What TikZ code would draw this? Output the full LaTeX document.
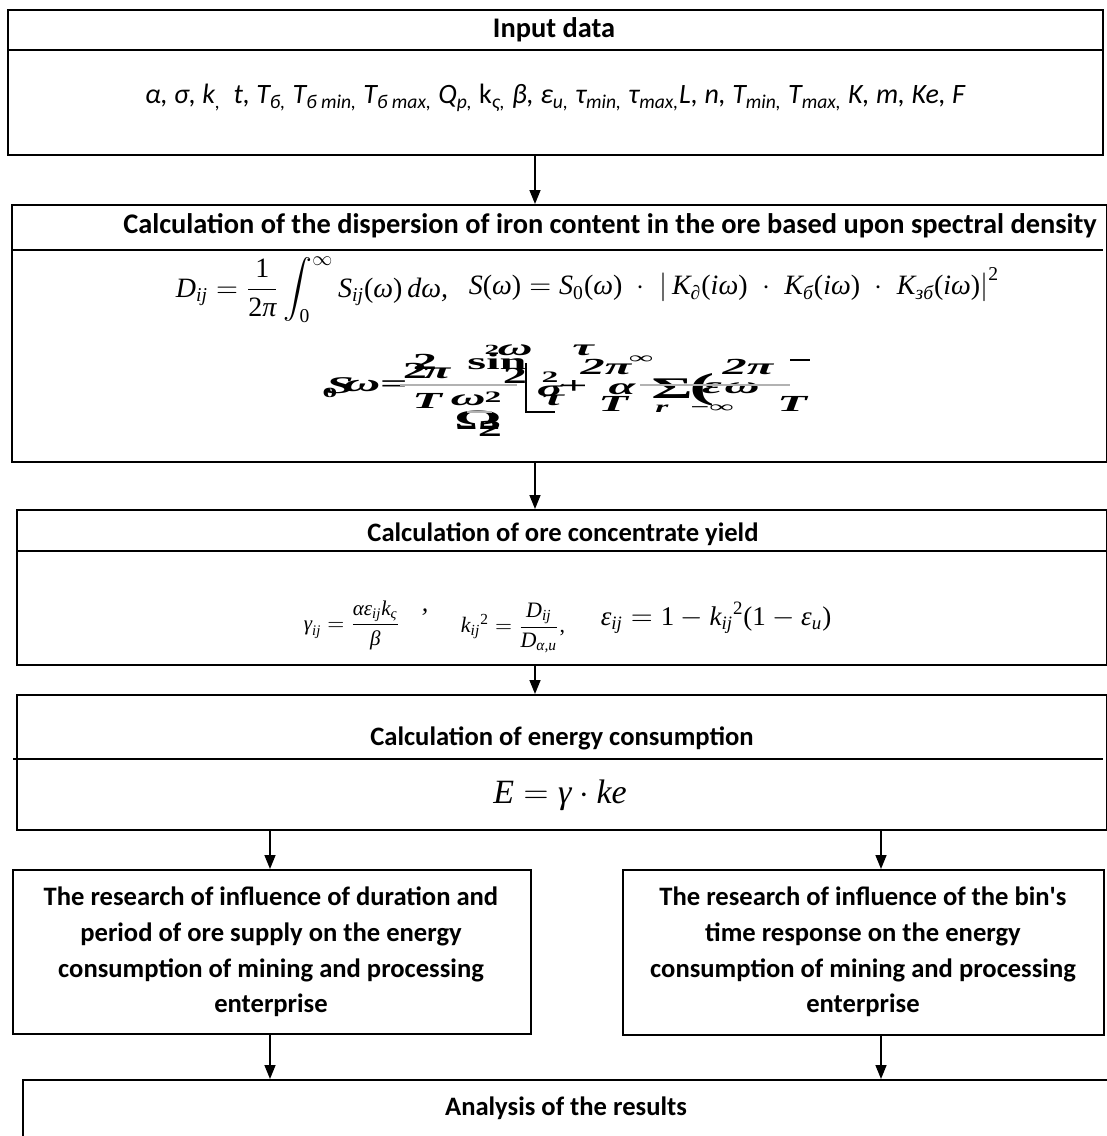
\documentclass[tikz,border=0pt]{standalone}
\usepackage{fontspec}
\usepackage{amsmath}
\usepackage{graphicx}
\setmainfont{Carlito}
\newfontfamily\tnr{Liberation Serif}
\usetikzlibrary{arrows.meta,fit,calc}
\newcommand\mv[1]{\text{\tnr\itshape #1}}
\newcommand\mr[1]{\text{\tnr #1}}
\newcommand\ar[1]{\mr{(}\mv{#1}\mr{)}}
\newcommand\gl[2]{\scalebox{2.1}[1]{\fontsize{#1}{#1}\selectfont\tnr\bfseries #2}}
\newcommand\cd{\mathbin{\;\cdot\;}}
\tikzset{
  box/.style={draw, line width=1pt, inner sep=0pt},
  divider/.style={line width=1pt},
  title/.style={font=\fontsize{13.3}{16}\selectfont\bfseries, inner sep=0pt},
  bigtitle/.style={font=\fontsize{14.2}{17}\selectfont\bfseries, inner sep=0pt},
  para/.style={inner sep=0pt, align=center, font=\fontsize{13.3}{17.8}\selectfont\bfseries},
  arr/.style={line width=0.75pt, -{Triangle[length=7pt,width=5.5pt]}},
  glyph/.style={inner sep=0pt, anchor=center},
  form/.style={inner sep=0pt}
}
\begin{document}
\begin{tikzpicture}[x=0.5pt,y=-0.5pt]
\useasboundingbox (0,0) rectangle (1107,1136);
\clip (0,0) rectangle (1107,1136);
\fill[white] (0,0) rectangle (1107,1136);
% connector x positions
\coordinate (cx) at (535,0);
\coordinate (lx) at (270,0);
\coordinate (rx) at (881,0);

% ---- Box 1
\node[box, fit={(8,10) (1103,155)}] (b1) {};
\draw[divider] (b1.west |- 0,50) -- (b1.east |- 0,50);
\node[bigtitle] (t1) at (554,30) {Input data};
\node[inner sep=0pt, font=\fontsize{14}{16}\selectfont\itshape] (v1) at (555,98)
 {α, σ, k\textsubscript{,}\ \ t, T\textsubscript{б,} T\textsubscript{б min,} T\textsubscript{б max,} Q\textsubscript{p,} \textup{k}\textsubscript{ς,} β, ε\textsubscript{u,} τ\textsubscript{min,} τ\textsubscript{max,}L, n, T\textsubscript{min,} T\textsubscript{max,} K, m, Ke, F};

% ---- Box 2
\node[box, fit={(12,205) (1107,462)}] (b2) {};
\draw[divider] (b2.west |- 0,250) -- (1103,250);
\node[bigtitle] (t2) at (610,226) {Calculation of the dispersion of iron content in the ore based upon spectral density};
\node[form, font=\fontsize{14}{16}\selectfont] (f1) at (312,290)
 {$\displaystyle \mv{D}_{\mv{ij}} = \frac{\mr{1}}{\mr{2}\mv{π}}\int_{\mr{0}}^{\infty}\mv{S}_{\mv{ij}}\ar{ω}\,\mv{dω}$\mv{,}};
\node[form, font=\fontsize{14}{16}\selectfont] (f2) at (734,285)
 {$\mv{S}\ar{ω} = \mv{S}_{\mr{0}}\ar{ω}\cd\left|\,\mv{K}_{\mv{∂}}\ar{iω}\cd\mv{K}_{\mv{б}}\ar{iω}\cd\mv{K}_{\mv{зб}}\ar{iω}\right|^{\mr{2}}$};

% garbled formula (overlapping glyphs)
\begin{scope}
\clip (318,340) rectangle (810,440);
\node[glyph] (g1) at (492,350) {\gl{7}{2}};
\node[glyph] (g2) at (515,350) {\gl{11.5}{\itshape ω}};
\node[glyph] (g3) at (583,350) {\gl{11.5}{\itshape τ}};
\node[glyph] (g4) at (425,362) {\gl{11.5}{2}};
\node[glyph] (g5) at (497,362) {\gl{11.5}{sin}};
\node[glyph] (g6) at (415,371) {\gl{11.5}{2}};
\node[glyph] (g7) at (437,373) {\gl{11.5}{\itshape π}};
\node[glyph] (g8) at (515,376) {\gl{11.5}{2}};
\node[glyph] (g9) at (340,386) {\gl{12}{\itshape S}};
\node[glyph] (g10) at (362,386) {\gl{12}{\itshape ω}};
\node[glyph] (g11) at (330,393) {\gl{7}{0}};
\node[glyph] (g12) at (394,386) {\gl{11.5}{=}};
\draw[gray!60, line width=0.8pt] (400,385) -- (517,385);
\node[glyph] (g13) at (550,377) {\gl{8}{2}};
\node[glyph] (g14) at (550,391) {\gl{11.5}{\itshape σ}};
\node[glyph] (g15) at (574,387) {\gl{11.5}{+}};
\draw[line width=1.3pt] (526,363) -- (526,412) -- (555,412);
\node[glyph] (g16) at (427,401) {\gl{11.5}{\itshape T}};
\node[glyph] (g17) at (468,400) {\gl{11.5}{\itshape ω}};
\node[glyph] (g18) at (493,397) {\gl{8}{2}};
\node[glyph] (g19) at (553,400) {\gl{11.5}{\itshape τ}};
\node[glyph] (g20) at (478,420) {\gl{14}{Ω}};
\node[glyph] (g21) at (490,429) {\gl{11.5}{2}};
\draw[gray!60, line width=0.8pt] (467,412) -- (492,412);
\node[glyph] (g22) at (606,367) {\gl{11.5}{\itshape 2π}};
\node[glyph] (g23) at (641,360) {\gl{8}{∞}};
\node[glyph] (g24) at (622,389) {\gl{11.5}{\itshape α}};
\node[glyph] (g25) at (672,389) {\gl{15}{Σ}};
\node[glyph] (g26) at (702,390) {\gl{18}{(}};
\node[glyph] (g27) at (748,367) {\gl{11.5}{\itshape 2π}};
\node[glyph] (g28) at (712,388) {\gl{11.5}{\itshape ε}};
\node[glyph] (g29) at (742,388) {\gl{11.5}{\itshape ω}};
\draw[gray!60, line width=0.8pt] (640,385) -- (790,385);
\node[glyph] (g30) at (613,404) {\gl{11.5}{\itshape T}};
\node[glyph] (g31) at (662,409) {\gl{8}{\itshape r}};
\node[glyph] (g32) at (712,409) {\gl{8}{−∞}};
\node[glyph] (g33) at (792,404) {\gl{11.5}{\itshape T}};
\draw[line width=0.8pt] (790,360) -- (810,360);
\end{scope}

% ---- Box 3
\node[box, fit={(17,510) (1107,665)}] (b3) {};
\draw[divider] (b3.west |- 0,551) -- (b3.east |- 0,551);
\node[title] (t3) at (563,534) {Calculation of ore concentrate yield};
\node[form, font=\fontsize{10.5}{12}\selectfont] (f3) at (352,625)
 {$\mv{γ}_{\mv{ij}} = \dfrac{\mv{αε}_{\mv{ij}}\mv{k}_{\mv{ς}}}{\mv{β}}$};
\node[form, font=\fontsize{13}{14}\selectfont] (c3) at (425,612) {\mv{,}};
\node[form, font=\fontsize{11}{12}\selectfont] (f4) at (513,628)
 {$\mv{k}_{\mv{ij}}{}^{\mr{2}} = \dfrac{\mv{D}_{\mv{ij}}}{\mv{D}_{\mv{α,u}}}\mr{,}$};
\node[form, font=\fontsize{13.5}{15}\selectfont] (f5) at (716,618)
 {$\mv{ε}_{\mv{ij}} = \mr{1} - \mv{k}_{\mv{ij}}{}^{\mr{2}}\mr{(1} - \mv{ε}_{\mv{u}}\mr{)}$};

% ---- Box 4
\node[box, fit={(17,695) (1107,830)}] (b4) {};
\draw[divider] (13,759) -- (1103,759);
\node[title] (t4) at (562,738) {Calculation of energy consumption};
\node[form, font=\fontsize{17}{19}\selectfont] (f6) at (560,795)
 {$\mv{E} = \mv{γ}\cdot\mv{ke}$};

% ---- Boxes 5, 6
\node[box, fit={(13,870) (531,1034)}] (b5) {};
\node[para] (t5) at (271,952)
 {The research of influence of duration and\\period of ore supply on the energy\\consumption of mining and processing\\enterprise};
\node[box, fit={(623,870) (1104,1035)}] (b6) {};
\node[para] (t6) at (863,952)
 {The research of influence of the bin\textquotesingle s\\time response on the energy\\consumption of mining and processing\\enterprise};

% ---- Box 7
\node[box, fit={(23,1080) (1112,1160)}] (b7) {};
\node[title] (t7) at (566,1108) {Analysis of the results};

% ---- connectors
\draw[arr] (b1.south -| cx) -- (b2.north -| cx);
\draw[arr] (b2.south -| cx) -- (b3.north -| cx);
\draw[arr] (b3.south -| cx) -- (b4.north -| cx);
\draw[arr] (b4.south -| lx) -- (b5.north -| lx);
\draw[arr] (b4.south -| rx) -- (b6.north -| rx);
\draw[arr] (b5.south -| lx) -- (b7.north -| lx);
\draw[arr] (b6.south -| rx) -- (b7.north -| rx);
\end{tikzpicture}
\end{document}
